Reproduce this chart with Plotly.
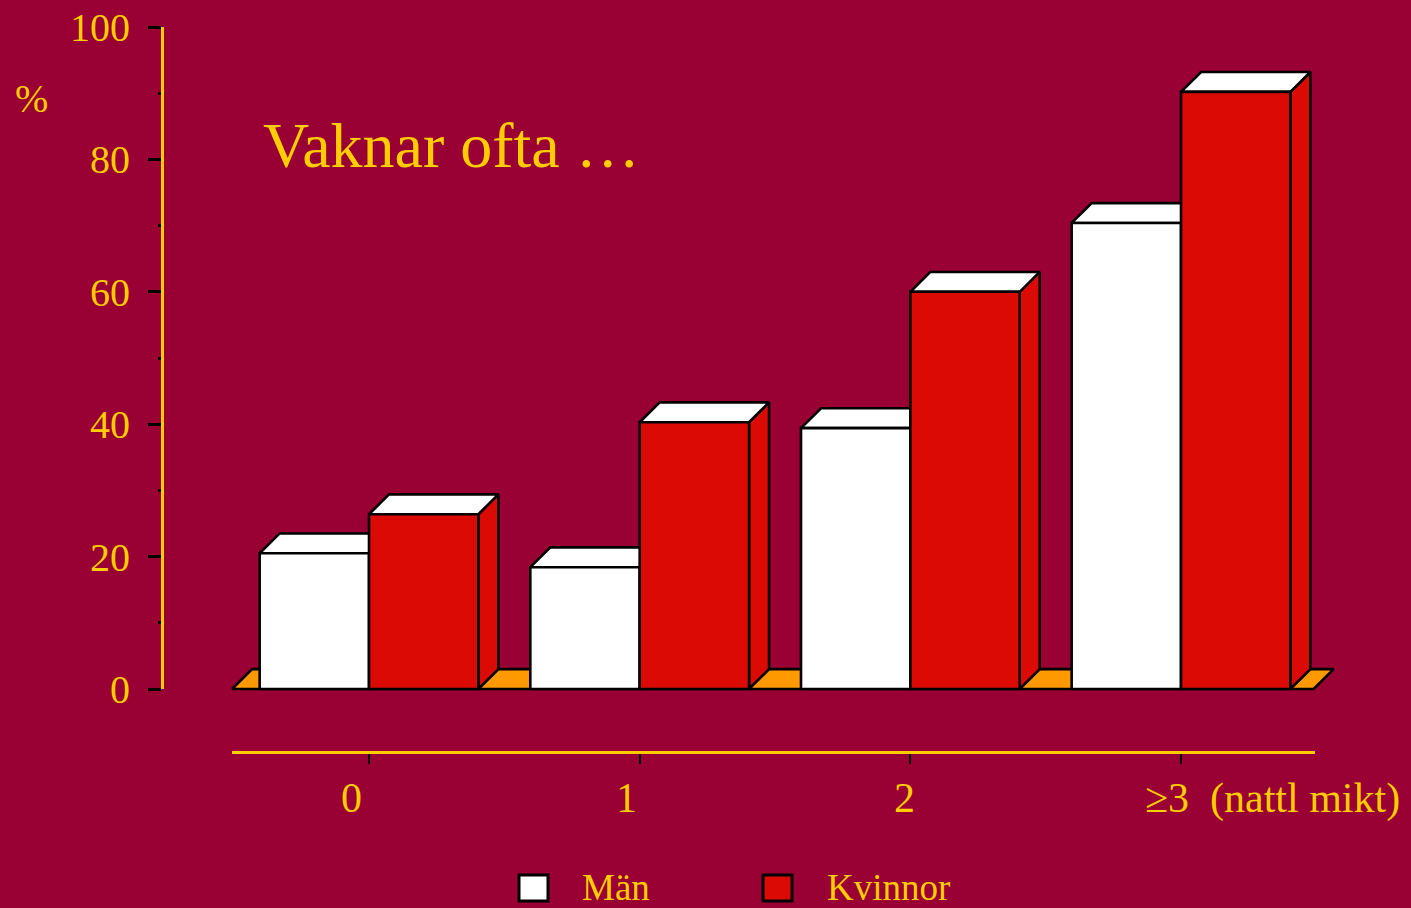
import plotly.graph_objects as go

# ---- data ----
categories = ["0", "1", "2", "≥3"]
x_labels = ["0", "1", "2", "≥3\u00a0\u00a0(nattl mikt)"]
man = [20.5, 18.4, 39.4, 70.4]
kvinnor = [26.4, 40.3, 60.0, 90.2]
series_names = ["Män", "Kvinnor"]
y_ticks = [0, 20, 40, 60, 80, 100]

# ---- style ----
BG = "#990033"
YEL = "#FFCC00"
RED = "#DC0A05"
WHITE = "#FFFFFF"
ORANGE = "#FF9900"
FONT = "Liberation Serif, Times New Roman, serif"
BAR_W = 0.404      # bar width in category units
DX = 0.074         # depth offset (category units)
DY = 3.0           # depth offset (percent units)
LW = 2.6

fig = go.Figure()


def poly(pts, color, **kw):
    xs = [p[0] for p in pts] + [pts[0][0]]
    ys = [p[1] for p in pts] + [pts[0][1]]
    fig.add_trace(go.Scatter(x=xs, y=ys, mode="lines", fill="toself",
                             fillcolor=color, line=dict(color="black", width=LW),
                             showlegend=False, hoverinfo="skip", **kw))


def box(xl, xr, v, color):
    side = [(xr, 0), (xr + DX, DY), (xr + DX, v + DY), (xr, v)]
    top = [(xl, v), (xl + DX, v + DY), (xr + DX, v + DY), (xr, v)]
    front = [(xl, 0), (xr, 0), (xr, v), (xl, v)]
    poly(side, color)
    poly(top, WHITE)
    poly(front, color)


# floor
FL, FR = -0.506, 3.49
poly([(FL, 0), (FR, 0), (FR + DX, DY), (FL + DX, DY)], ORANGE)

for i, c in enumerate(categories):
    box(i - BAR_W, i, man[i], WHITE)
    box(i, i + BAR_W, kvinnor[i], RED)

# dummy trace for visible axes subplot
fig.add_trace(go.Scatter(x=[None], y=[None], xaxis="x2", yaxis="y2",
                         showlegend=False, hoverinfo="skip"))

W, H = 1411, 908
MT, MB = 27, 156
PH = H - MT - MB  # 725
UX = 270.67       # px per category
UY = 6.62         # px per percent
X0PX = 369        # pixel of category 0
Y0PX = 689        # pixel of value 0


def xpx(p):
    return (p - X0PX) / UX


def ypaper(p):
    return (H - MB - p) / PH


annotations = []
# x labels
lab_px = [351, 626, 904]
for i in range(3):
    annotations.append(dict(x=xpx(lab_px[i]), y=ypaper(798), xref="x", yref="paper",
                            text=x_labels[i], showarrow=False, xanchor="center",
                            yanchor="middle", font=dict(family=FONT, size=42, color=YEL)))
annotations.append(dict(x=xpx(1143), y=ypaper(798), xref="x", yref="paper",
                        text=x_labels[3], showarrow=False, xanchor="left",
                        yanchor="middle", font=dict(family=FONT, size=42, color=YEL)))
# title
annotations.append(dict(x=261 / W, y=ypaper(145), xref="paper", yref="paper",
                        text="Vaknar ofta …", showarrow=False, xanchor="left",
                        yanchor="middle", font=dict(family=FONT, size=64, color=YEL)))
# percent sign
annotations.append(dict(x=31 / W, y=ypaper(99), xref="paper", yref="paper",
                        text="%", showarrow=False, xanchor="center",
                        yanchor="middle", font=dict(family=FONT, size=40, color=YEL)))
# legend texts
annotations.append(dict(x=580 / W, y=ypaper(887), xref="paper", yref="paper",
                        text=series_names[0], showarrow=False, xanchor="left",
                        yanchor="middle", font=dict(family=FONT, size=37, color=YEL)))
annotations.append(dict(x=825 / W, y=ypaper(887), xref="paper", yref="paper",
                        text=series_names[1], showarrow=False, xanchor="left",
                        yanchor="middle", font=dict(family=FONT, size=37, color=YEL)))

shapes = [
    dict(type="rect", xref="paper", yref="paper", x0=519 / W, x1=548 / W,
         y0=ypaper(875), y1=ypaper(901), fillcolor=WHITE, line=dict(color="black", width=3)),
    dict(type="rect", xref="paper", yref="paper", x0=763 / W, x1=792 / W,
         y0=ypaper(875), y1=ypaper(901), fillcolor=RED, line=dict(color="black", width=3)),
]

fig.update_layout(
    width=W, height=H,
    margin=dict(l=0, r=0, t=MT, b=MB),
    paper_bgcolor=BG, plot_bgcolor="rgba(0,0,0,0)",
    showlegend=False,
    xaxis=dict(domain=[0, 1], range=[xpx(0), xpx(W)], visible=False, fixedrange=True),
    yaxis=dict(domain=[0, 1], range=[(Y0PX - (H - MB)) / UY, 100], visible=False, fixedrange=True),
    xaxis2=dict(domain=[232 / W, 1315 / W], range=[xpx(232), xpx(1315)],
                anchor="free", position=0, showline=True, linecolor=YEL, linewidth=2.5,
                ticks="outside", tickvals=list(range(len(categories))), ticklen=10,
                tickwidth=2, tickcolor="black", showticklabels=False,
                showgrid=False, zeroline=False, fixedrange=True),
    yaxis2=dict(domain=[ypaper(Y0PX), 1], range=[0, 100], anchor="free",
                position=162 / W, showline=True, linecolor=YEL, linewidth=3,
                ticks="outside", tickvals=y_ticks, ticklen=13, tickwidth=3,
                tickcolor="black", tickfont=dict(family=FONT, size=40, color=YEL),
                ticklabelstandoff=10,
                minor=dict(ticks="outside", dtick=10, ticklen=3, tickwidth=3, tickcolor="black"),
                showgrid=False, zeroline=False, fixedrange=True),
    annotations=annotations,
    shapes=shapes,
)

fig.write_html(
    "out.html",
    config={"displayModeBar": False, "staticPlot": True},
    post_script="document.body.style.margin='0';document.body.style.background='#990033';"
                "document.body.style.overflow='hidden';",
)
